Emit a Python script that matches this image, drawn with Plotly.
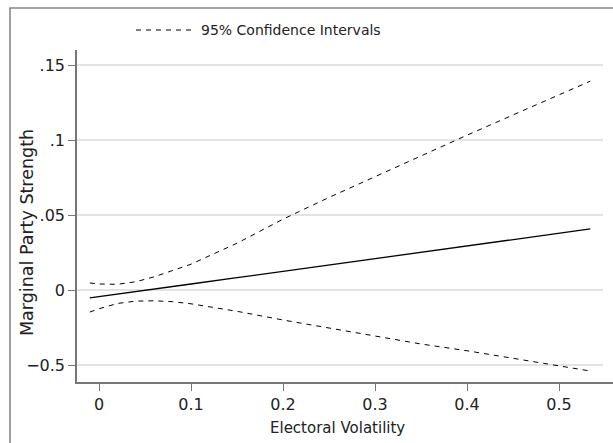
import plotly.graph_objects as go

# ---- data ----
x_vals = [-0.01, 0.0, 0.02, 0.04, 0.06, 0.08, 0.10, 0.15, 0.20, 0.25, 0.30, 0.35, 0.40, 0.45, 0.50, 0.534]
effect = [-0.0053, -0.0045, -0.0028, -0.0011, 0.0006, 0.0023, 0.0040, 0.0082, 0.0124, 0.0166, 0.0209, 0.0251, 0.0293, 0.0335, 0.0378, 0.0407]
upper = [0.0047, 0.0040, 0.0038, 0.0055, 0.0088, 0.0128, 0.0172, 0.0312, 0.0472, 0.0617, 0.0757, 0.0895, 0.1032, 0.1167, 0.1302, 0.1392]
lower = [-0.0147, -0.0125, -0.0090, -0.0074, -0.0072, -0.0078, -0.0092, -0.0142, -0.0200, -0.0255, -0.0310, -0.0360, -0.0405, -0.0455, -0.0505, -0.0540]

x_ticks = [0, 0.1, 0.2, 0.3, 0.4, 0.5]
x_ticktext = ["0", "0.1", "0.2", "0.3", "0.4", "0.5"]
y_ticks = [0.15, 0.10, 0.05, 0.0, -0.05]
y_ticktext = [".15", ".1", ".05", "0", "\u22120.5"]

legend_label = "95% Confidence Intervals"
x_title = "Electoral Volatility"
y_title = "Marginal Party Strength"

W, H = 613, 443
ML, MR, MT, MB = 77, 0, 50, 61
PW, PH = W - ML - MR, H - MT - MB
FONT = "DejaVu Sans"
TXT = "#222222"
AX = "#777777"
GRID = "#c8c8c8"

def px_x(p):
    return (p - ML) / PW

def px_y(p):
    return (H - MB - p) / PH

fig = go.Figure()
fig.add_trace(go.Scatter(x=x_vals, y=upper, mode="lines",
                         line=dict(color="black", width=1, dash="5px,5px"),
                         name=legend_label, showlegend=False))
fig.add_trace(go.Scatter(x=x_vals, y=lower, mode="lines",
                         line=dict(color="black", width=1, dash="5px,5px"),
                         name=legend_label, showlegend=False))
fig.add_trace(go.Scatter(x=x_vals, y=effect, mode="lines",
                         line=dict(color="black", width=1.3),
                         name="Marginal effect", showlegend=False))

shapes = []
# horizontal gridlines (stop a little before the right edge, as in the reference)
for yv in y_ticks:
    shapes.append(dict(type="line", xref="paper", yref="y", x0=0, x1=px_x(603),
                       y0=yv, y1=yv, line=dict(color=GRID, width=1.2), layer="below"))
# outer frame
shapes.append(dict(type="rect", xref="paper", yref="paper",
                   x0=px_x(10), x1=px_x(640), y0=px_y(8), y1=px_y(470),
                   line=dict(color="#888888", width=1.6), layer="above"))
# manual legend sample
shapes.append(dict(type="line", xref="paper", yref="paper",
                   x0=px_x(136), x1=px_x(196), y0=px_y(30), y1=px_y(30),
                   line=dict(color="black", width=1, dash="5px,5px")))

annotations = [
    dict(text=legend_label, xref="paper", yref="paper", x=px_x(199), y=px_y(30),
         xanchor="left", yanchor="middle", showarrow=False,
         font=dict(family=FONT, size=14, color=TXT)),
    dict(text=x_title, xref="paper", yref="paper", x=px_x(337), y=px_y(428),
         xanchor="center", yanchor="middle", showarrow=False,
         font=dict(family=FONT, size=15, color=TXT)),
    dict(text=y_title, xref="paper", yref="paper", x=px_x(27), y=px_y(233),
         xanchor="center", yanchor="middle", showarrow=False, textangle=-90,
         font=dict(family=FONT, size=17.5, color=TXT)),
]

fig.update_layout(
    width=W, height=H,
    margin=dict(l=ML, r=MR, t=MT, b=MB, pad=0),
    paper_bgcolor="white", plot_bgcolor="white",
    font=dict(family=FONT, size=16, color=TXT),
    showlegend=False,
    shapes=shapes,
    annotations=annotations,
    xaxis=dict(range=[(ML - 99) / 920, (W - 99) / 920],
               tickvals=x_ticks, ticktext=x_ticktext,
               showgrid=False, zeroline=False,
               showline=True, linecolor=AX, linewidth=1.6,
               ticks="outside", ticklen=7, tickcolor=AX, tickwidth=1.4,
               tickfont=dict(family=FONT, size=16, color=TXT)),
    yaxis=dict(range=[-0.05 - 17 / 1500, 0.15 + 15 / 1500],
               tickvals=y_ticks, ticktext=y_ticktext,
               showgrid=False, zeroline=False,
               showline=True, linecolor=AX, linewidth=1.6,
               ticks="outside", ticklen=7, tickcolor=AX, tickwidth=1.4,
               tickfont=dict(family=FONT, size=16, color=TXT)),
)

fig.write_html("out.html")
